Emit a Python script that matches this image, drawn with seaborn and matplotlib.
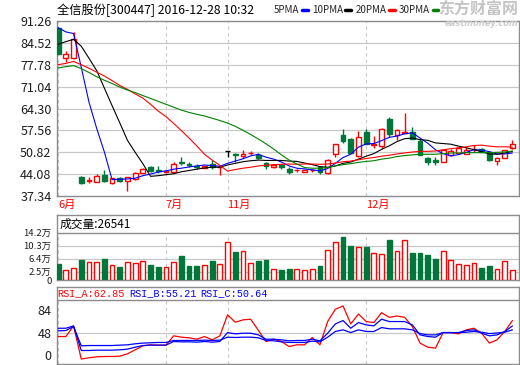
import matplotlib
matplotlib.use("Agg")
import matplotlib.pyplot as plt
from matplotlib.lines import Line2D
import numpy as np
import pandas as pd
import seaborn as sns

# daily candles, 6月 .. 12月 (price, 元)
opens = [89.2, 80.0, 80.0, 43.1, 42.1, 41.8, 43.8, 41.4, 42.8, 42.0,
         42.5, 44.5, 46.3, 45.2, 44.6, 44.8, 47.7, 47.2, 46.7, 46.1,
         47.1, 46.2, 51.1, 50.3, 49.8, 50.6, 50.1, 47.5, 46.3, 46.8,
         45.8, 45.2, 44.8, 45.2, 46.3, 44.3, 50.2, 56.0, 55.0, 49.7,
         57.0, 53.2, 52.8, 61.1, 56.0, 56.9, 57.0, 54.3, 48.9, 48.4,
         47.85, 49.9, 50.6, 50.4, 51.8, 51.9, 50.9, 48.2, 49.2, 52.1]
highs = [89.2, 81.9, 88.0, 43.5, 43.1, 44.1, 45.3, 42.9, 43.1, 43.2,
         44.8, 46.0, 46.6, 46.5, 45.5, 47.9, 49.4, 47.9, 47.1, 46.9,
         48.4, 46.5, 51.1, 50.7, 51.4, 51.1, 50.6, 47.9, 47.1, 47.2,
         46.3, 45.8, 45.7, 45.8, 46.5, 48.6, 53.5, 58.1, 55.3, 57.5,
         58.0, 55.8, 58.2, 61.6, 57.9, 62.9, 58.6, 54.8, 49.4, 49.4,
         51.6, 51.8, 52.3, 52.3, 53.0, 52.1, 51.1, 49.4, 51.6, 54.5]
lows = [81.1, 78.5, 79.6, 41.0, 41.2, 41.8, 41.7, 41.1, 41.6, 39.0,
        42.3, 44.3, 44.7, 44.5, 44.4, 44.6, 46.8, 46.3, 45.8, 45.9,
        45.8, 43.8, 49.4, 47.9, 49.2, 49.9, 48.6, 45.8, 46.1, 45.8,
        44.1, 44.6, 44.7, 44.6, 44.1, 44.0, 49.4, 53.7, 50.5, 49.5,
        53.3, 52.2, 52.2, 55.5, 54.5, 56.7, 54.8, 50.0, 46.8, 46.8,
        47.7, 49.7, 50.4, 50.2, 50.9, 50.8, 48.2, 46.8, 49.0, 51.9]
closes = [81.1, 81.1, 85.7, 41.4, 42.2, 43.5, 41.9, 42.8, 41.9, 43.1,
          44.5, 45.8, 45.0, 45.0, 45.1, 47.2, 47.4, 46.9, 46.4, 46.7,
          46.3, 46.4, 51.1, 50.0, 50.4, 50.7, 48.9, 46.5, 46.9, 46.3,
          44.6, 45.3, 45.5, 45.3, 44.6, 48.4, 53.3, 54.2, 50.7, 55.5,
          53.5, 53.4, 58.1, 56.3, 57.8, 57.0, 55.0, 50.1, 47.9, 47.8,
          51.4, 51.2, 52.1, 51.6, 51.9, 50.9, 48.4, 48.9, 51.4, 53.3]

ma5 = [89.2, 87.9, 87.4, 77.0, 66.3, 58.2, 50.9, 42.4, 42.5, 42.6,
       42.8, 43.6, 44.1, 44.7, 45.1, 45.6, 45.9, 46.3, 46.6, 46.9,
       46.7, 46.5, 47.4, 48.1, 48.8, 49.7, 50.2, 49.3, 48.7, 47.8,
       46.6, 45.9, 45.7, 45.4, 45.1, 45.8, 47.4, 49.2, 50.2, 52.4,
       53.4, 53.5, 54.4, 55.4, 55.8, 56.5, 56.8, 55.2, 53.6, 51.6,
       50.4, 49.7, 50.1, 50.8, 51.6, 51.5, 51.0, 50.3, 50.3, 50.6]
ma10 = [84.1, 84.9, 85.6, 83.5, 79.8, 76.0, 70.6, 65.2, 59.9, 54.5,
        50.8, 47.3, 43.4, 43.6, 43.9, 44.2, 44.8, 45.2, 45.6, 46.0,
        46.2, 46.2, 46.9, 47.4, 47.9, 48.2, 48.4, 48.3, 48.3, 48.3,
        48.1, 48.0, 47.5, 47.0, 46.4, 46.2, 46.6, 47.4, 47.8, 48.7,
        49.6, 50.4, 51.7, 52.8, 54.1, 55.0, 55.2, 54.7, 54.5, 53.7,
        53.5, 53.3, 52.7, 52.2, 51.6, 51.0, 50.3, 50.2, 50.6, 51.1]
ma20 = [77.8, 78.2, 78.8, 77.8, 76.7, 75.5, 74.3, 72.9, 71.4, 70.2,
        68.8, 67.5, 65.6, 63.5, 61.8, 59.7, 57.5, 55.2, 52.8, 50.2,
        48.4, 46.8, 45.0, 45.5, 45.9, 46.2, 46.6, 46.8, 47.0, 47.1,
        47.2, 47.1, 47.2, 47.2, 47.1, 47.2, 47.5, 47.9, 48.1, 48.5,
        48.9, 49.2, 49.6, 49.9, 50.3, 50.6, 50.9, 51.1, 51.1, 51.2,
        51.6, 51.9, 52.2, 52.5, 52.9, 53.0, 52.7, 52.5, 52.5, 52.4]
ma30 = [76.8, 77.2, 77.5, 76.6, 75.4, 74.1, 73.0, 72.0, 70.9, 70.0,
        69.2, 68.3, 67.4, 66.5, 65.6, 64.7, 63.8, 63.1, 62.5, 62.0,
        61.3, 60.6, 59.8, 58.8, 57.6, 56.3, 54.9, 53.4, 51.8, 50.0,
        48.4, 47.2, 46.1, 45.9, 45.9, 46.1, 46.6, 47.0, 47.3, 47.7,
        48.0, 48.2, 48.7, 49.0, 49.5, 49.8, 50.0, 50.2, 50.2, 50.2,
        50.4, 50.6, 50.6, 50.7, 50.7, 50.7, 50.7, 50.8, 50.9, 51.2]

# volume in 万手
volume = [4.8, 3.0, 3.5, 6.0, 5.4, 5.4, 6.3, 4.4, 3.9, 5.4,
          5.1, 5.7, 4.5, 3.9, 3.8, 5.4, 7.2, 4.2, 4.2, 4.5,
          5.7, 4.8, 11.3, 8.4, 8.7, 5.1, 5.7, 6.0, 3.2, 3.0,
          3.3, 3.2, 3.0, 3.2, 4.2, 8.9, 11.4, 12.9, 10.2, 9.8,
          9.9, 8.1, 7.8, 12.0, 8.6, 12.0, 8.2, 8.2, 7.5, 6.3,
          8.6, 5.9, 4.8, 4.5, 5.1, 3.6, 4.2, 3.2, 5.7, 3.0]

rsi_a = [42.3, 42.3, 59.0, 7.0, 9.0, 10.5, 11.0, 11.0, 11.5, 15.2,
         21.5, 27.7, 29.3, 28.8, 28.8, 43.4, 41.3, 40.3, 38.1, 42.3,
         37.1, 43.4, 76.3, 64.8, 68.4, 69.5, 52.0, 34.5, 38.1, 34.5,
         26.6, 29.3, 29.3, 40.8, 29.3, 65.8, 85.1, 90.3, 62.1, 77.6,
         65.8, 64.2, 79.7, 72.4, 74.5, 72.4, 58.0, 32.0, 25.6, 24.1,
         48.5, 48.5, 46.5, 52.8, 55.3, 47.5, 32.0, 37.1, 50.2, 67.4]
rsi_b = [55.3, 55.3, 59.0, 20.4, 20.4, 20.9, 20.9, 20.9, 21.5, 22.5,
         25.6, 28.2, 28.8, 28.8, 28.8, 34.5, 34.0, 34.0, 33.5, 34.5,
         33.5, 34.5, 48.5, 46.5, 47.5, 47.5, 44.9, 38.1, 38.1, 37.1,
         35.6, 36.1, 36.1, 38.1, 35.6, 47.5, 62.1, 67.4, 55.3, 64.2,
         60.6, 59.0, 69.5, 65.8, 65.8, 65.8, 60.6, 44.9, 42.3, 41.3,
         48.5, 48.5, 48.5, 51.7, 52.8, 47.5, 43.4, 44.9, 50.2, 59.0]
rsi_c = [51.2, 51.7, 57.9, 27.7, 28.2, 28.2, 28.2, 28.2, 28.8, 29.3,
         30.9, 32.0, 32.5, 33.0, 33.0, 36.1, 36.1, 36.1, 36.1, 36.6,
         36.1, 36.6, 41.3, 40.8, 41.3, 41.3, 40.3, 36.1, 35.6, 34.0,
         33.0, 33.0, 33.0, 35.1, 34.0, 41.3, 50.2, 52.8, 48.5, 52.8,
         50.2, 50.2, 56.4, 54.4, 54.4, 54.4, 52.8, 46.9, 44.9, 44.9,
         48.5, 48.5, 48.5, 49.1, 50.2, 49.1, 46.9, 47.9, 49.1, 52.8]

price_ticks = [37.34, 44.08, 50.82, 57.56, 64.30, 71.04, 77.78, 84.52, 91.26]
vol_ticks = [0, 2.5, 6.4, 10.3, 14.2]
vol_labels = ["0", "2.5万", "6.4万", "10.3万", "14.2万"]
rsi_ticks = [0, 48, 84]
month_pos = [0, 14, 22, 40]
month_labels = ["6月", "7月", "11月", "12月"]

RED = "#ff0000"
GREEN = "#00773a"
BLUE = "#0000ff"
GRID = "#c8c8c8"
FRAME = "#8c8c8c"
TXT = "#1e1e1e"

sns.set_theme(style="white")
plt.rcParams["font.family"] = ["Noto Sans CJK SC", "DejaVu Sans"]
plt.rcParams["axes.unicode_minus"] = False

W, H = 520, 365
fig = plt.figure(figsize=(W / 100, H / 100), dpi=100)
fig.patch.set_facecolor("white")


def box(top, bottom):
    return [57 / W, 1 - bottom / H, 462 / W, (bottom - top) / H]


ax_p = fig.add_axes(box(21, 196))
ax_v = fig.add_axes(box(215, 280))
ax_r = fig.add_axes(box(287, 363.5))

df = pd.DataFrame({"i": np.arange(len(closes)), "o": opens, "h": highs,
                   "l": lows, "c": closes, "v": volume})
up = df["c"] > df["o"]
down = df["c"] < df["o"]
edge = np.where(up, RED, np.where(down, GREEN, "#000000"))
face = np.where(down, GREEN, "white")

for ax in (ax_p, ax_v, ax_r):
    ax.set_facecolor("white")
    ax.set_xlim(-0.15, 59.85)
    for s in ax.spines.values():
        s.set_color(FRAME)
        s.set_linewidth(1.0)
    ax.tick_params(axis="both", length=0, colors=TXT)
    ax.grid(False)

# price panel
for t in price_ticks[1:-1]:
    ax_p.axhline(t, color=GRID, lw=0.9, zorder=0)
for m in month_pos:
    ax_p.axvline(m, color=GRID, lw=0.8, ls=(0, (3, 3)), zorder=0)

ax_p.vlines(df["i"], df["l"], df["h"], colors=edge, lw=1.0, zorder=3)
ax_p.bar(df["i"], (df["c"] - df["o"]).abs(), bottom=np.minimum(df["o"], df["c"]),
         width=0.62, color=face, edgecolor=edge, linewidth=1.0, zorder=4)

ma = pd.DataFrame({"i": df["i"], "MA5": ma5, "MA10": ma10, "MA20": ma20, "MA30": ma30})
ma = ma.melt("i", var_name="line", value_name="val")
ma_colors = {"MA5": BLUE, "MA10": "#000000", "MA20": RED, "MA30": "#008000"}
sns.lineplot(data=ma, x="i", y="val", hue="line", palette=ma_colors,
             hue_order=list(ma_colors), lw=0.8, legend=False, errorbar=None,
             ax=ax_p, zorder=5)

ax_p.set_ylim(price_ticks[0], price_ticks[-1])
ax_p.set_yticks(price_ticks, [f"{t:.2f}" for t in price_ticks])
ax_p.set_xticks(month_pos, month_labels)
ax_p.tick_params(axis="y", labelsize=9, pad=4)
ax_p.tick_params(axis="x", labelsize=8, labelcolor=RED, pad=3)
for lbl in ax_p.get_xticklabels():
    lbl.set_horizontalalignment("left")
ax_p.set_xlabel("")
ax_p.set_ylabel("")

# volume panel
for t in vol_ticks[1:-1]:
    ax_v.axhline(t, color=GRID, lw=0.9, zorder=0)
ax_v.axhline(vol_ticks[-1], color=FRAME, lw=1.0, zorder=1)
for m in month_pos:
    ax_v.axvline(m, ymax=14.2 / 19.5, color=GRID, lw=0.8, ls=(0, (3, 3)), zorder=0)
vol_up = df["c"] >= df["o"]
ax_v.bar(df["i"], df["v"], width=0.62,
         color=np.where(vol_up, "white", GREEN),
         edgecolor=np.where(vol_up, RED, GREEN), linewidth=1.0, zorder=3)
ax_v.set_ylim(0, 19.5)
ax_v.set_yticks(vol_ticks, vol_labels)
ax_v.set_xticks([])
ax_v.tick_params(axis="y", labelsize=6.8, pad=4)
ax_v.text(0.005, 0.865, "成交量:26541", transform=ax_v.transAxes,
          va="center", ha="left", fontsize=8.5, color="#000000")

# RSI panel
ax_r.axhline(48, color=GRID, lw=0.9, zorder=0)
ax_r.axhline(100, color=FRAME, lw=1.0, zorder=1)
for m in month_pos:
    ax_r.axvline(m, ymax=100 / 120, color=GRID, lw=0.8, ls=(0, (3, 3)), zorder=0)
rsi = pd.DataFrame({"i": df["i"], "A": rsi_a, "B": rsi_b, "C": rsi_c})
rsi = rsi.melt("i", var_name="line", value_name="val")
sns.lineplot(data=rsi, x="i", y="val", hue="line",
             palette={"A": RED, "B": BLUE, "C": BLUE}, hue_order=["A", "B", "C"],
             lw=0.9, legend=False, errorbar=None, ax=ax_r, zorder=3)
ax_r.set_ylim(0, 120)
ax_r.set_yticks(rsi_ticks, [str(t) for t in rsi_ticks])
ax_r.set_xticks([])
ax_r.tick_params(axis="y", labelsize=9, pad=4)
ax_r.yaxis.get_major_ticks()[0].label1.set_verticalalignment("bottom")
ax_r.set_xlabel("")
ax_r.set_ylabel("")
mono = ["Liberation Mono", "DejaVu Sans Mono"]
for x, s, c in [(0.001, "RSI_A:62.85", RED), (0.156, "RSI_B:55.21", BLUE),
                (0.31, "RSI_C:50.64", BLUE)]:
    ax_r.text(x, 0.915, s, transform=ax_r.transAxes, va="center", ha="left",
              fontsize=7.3, color=c, family=mono)

# header
fig.text(57 / W, 1 - 10 / H, "全信股份[300447] 2016-12-28 10:32",
         va="center", ha="left", fontsize=8.8, color="#000000")
fig.text(518 / W, 1 - 1 / H, "东方财富网", ha="right", va="top",
         fontsize=11.5, fontweight="bold", color="#c4c4c4", zorder=0)
fig.text(518 / W, 1 - 27.5 / H, "eastmoney.com", ha="right", va="bottom",
         fontsize=6, fontweight="bold", style="italic", color="#cccccc",
         family=["DejaVu Sans"], zorder=0)
handles = [Line2D([], [], color=c, lw=2.5) for c in ma_colors.values()]
fig.legend(handles, ["5PMA", "10PMA", "20PMA", "30PMA"], loc="center left",
           bbox_to_anchor=(274 / W, 1 - 10 / H), ncol=4, frameon=False,
           markerfirst=False, handlelength=0.6, handletextpad=0.25,
           columnspacing=0.45, fontsize=7, borderpad=0, borderaxespad=0)

fig.savefig("out.png", dpi=100, facecolor="white")
plt.close(fig)
